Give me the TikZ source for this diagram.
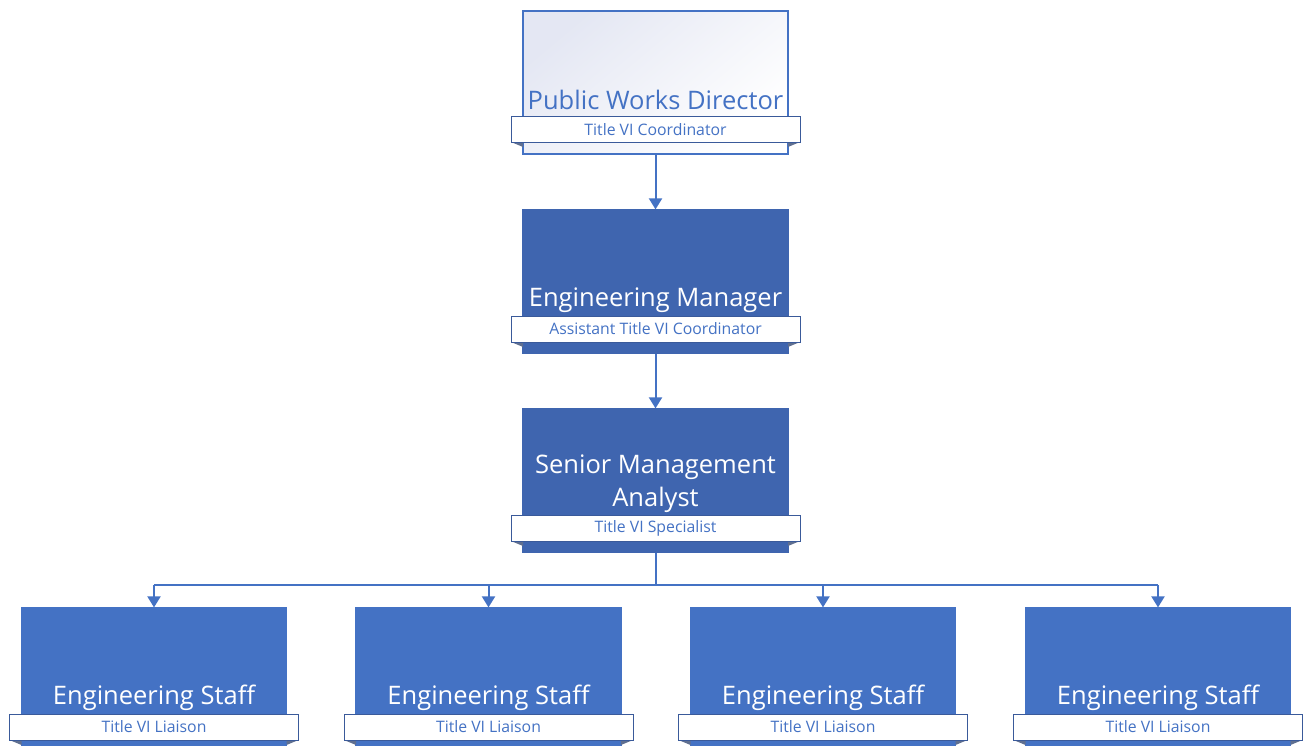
\documentclass[tikz,border=0pt]{standalone}
\usepackage{fontspec}
\setmainfont{Open Sans}
\usetikzlibrary{arrows.meta}
\definecolor{accent}{HTML}{4472C4}
\definecolor{darkacc}{HTML}{3F65AF}
\definecolor{bandline}{HTML}{3A5A9A}
\definecolor{foldc}{HTML}{5F6F90}
\definecolor{lav}{HTML}{E4E7F3}
\begin{document}
\begin{tikzpicture}[x=1pt,y=-1pt,
  mainbox/.style={draw=accent, line width=1.2pt, minimum width=265pt, minimum height=143pt, inner sep=0pt},
  band/.style={draw=bandline, fill=white, line width=0.9pt, minimum width=289pt, minimum height=26pt, inner sep=0pt, text=accent, font=\fontsize{15.8}{18}\selectfont},
  title/.style={font=\fontsize{25.5}{33}\selectfont, align=center},
  link/.style={draw=accent, line width=2pt},
  arr/.style={link, -{Triangle[length=11pt,width=13pt]}}]
\useasboundingbox (0,0) rectangle (1305,746);
\newcommand{\folds}[2]{%
  \fill[foldc] (#1-144.5,#2) -- (#1-132.5,#2) -- (#1-132.5,#2+5) -- cycle;
  \fill[foldc] (#1+144.5,#2) -- (#1+132.5,#2) -- (#1+132.5,#2+5) -- cycle;}
% top
\node[mainbox, top color=lav, bottom color=white, shading angle=40] (d) at (655.5,82.5) {};
\node[title, text=accent] at (655.5,100) {Public Works Director};
\folds{655.5}{142}
\node[band] (db) at (655.5,129.5) {Title VI Coordinator};
% manager
\node[mainbox, fill=darkacc, draw=darkacc] (m) at (655.5,281.5) {};
\node[title, text=white] at (655.5,300) {Engineering Manager};
\folds{655.5}{342}
\node[band] (mb) at (655.5,329) {Assistant Title VI Coordinator};
% analyst
\node[mainbox, fill=darkacc, draw=darkacc] (s) at (655.5,480.5) {};
\node[title, text=white] at (655.5,484) {Senior Management\\Analyst};
\folds{655.5}{541}
\node[band] (sb) at (655.5,528) {Title VI Specialist};
% staff
\foreach \i/\cx in {1/154,2/488.5,3/823,4/1158}{
  \node[mainbox, fill=accent, draw=accent, minimum height=150pt] (e\i) at (\cx,683) {};
  \node[title, text=white] at (\cx,698) {Engineering Staff};
  \folds{\cx}{740}
  \node[band] (eb\i) at (\cx,727) {Title VI Liaison};
}
% connectors
\draw[arr] (d.south) -- (m.north);
\draw[arr] (m.south) -- (s.north);
\coordinate (j) at (655.5,585);
\draw[link] (s.south) -- (j);
\draw[link] (154,585) -- (1158,585);
\foreach \i in {1,2,3,4}{
  \draw[arr] (e\i.north |- j) -- (e\i.north);
}
\end{tikzpicture}
\end{document}
